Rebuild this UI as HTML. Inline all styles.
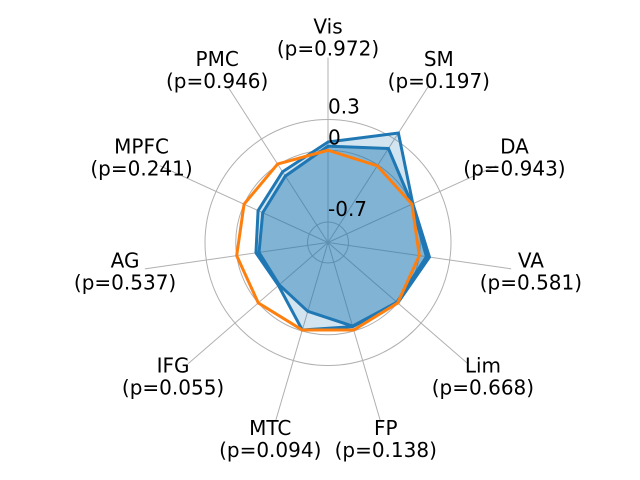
<!DOCTYPE html>
<html><head><meta charset="utf-8"><style>
body{margin:0;background:#fff}
svg{display:block}
text{font-family:"DejaVu Sans","Liberation Sans",sans-serif;font-size:20px;fill:#000}
</style></head><body>
<svg id="chart" width="640" height="480" viewBox="0 0 640 480">
<g id="grid"></g>
<g id="series"></g>
<g id="labels"></g>
</svg>
<script>
const categories = ["Vis","SM","DA","VA","Lim","FP","MTC","IFG","AG","MPFC","PMC"];
const pvalues = ["0.972","0.197","0.943","0.581","0.668","0.138","0.094","0.055","0.537","0.241","0.946"];
const seriesA = [0.08,0.37,0.01,0.10,0.00,-0.045,-0.01,-0.26,-0.19,-0.15,-0.08];
const seriesB = [0.04,0.19,0.00,0.07,-0.01,-0.05,-0.20,-0.27,-0.22,-0.20,-0.13];
const seriesC = [0.00,-0.01,0.00,0.00,0.00,-0.01,-0.01,0.00,0.00,0.00,0.01];
const ringValues = [-0.7,0,0.3];
const ringLabels = ["-0.7","0","0.3"];

const cx=328, cy=242.5, rMin=-0.9, rMax=0.3, R=123;
const NS="http://www.w3.org/2000/svg";
function rScale(v){return (v-rMin)/(rMax-rMin)*R;}
function ang(i){return i*2*Math.PI/categories.length;}
function pt(i,r){return [cx+r*Math.sin(ang(i)), cy-r*Math.cos(ang(i))];}
function mk(tag,attrs,parent){const e=document.createElementNS(NS,tag);for(const k in attrs)e.setAttribute(k,attrs[k]);parent.appendChild(e);return e;}

const grid=document.getElementById('grid');
ringValues.forEach((v,i)=>{
  const c=mk('circle',{cx:cx,cy:cy,r:rScale(v),fill:'none',stroke:'#b0b0b0','stroke-width':1},grid);
  
  
});
categories.forEach((c,i)=>{
  const p=pt(i,185);
  const l=mk('line',{x1:cx,y1:cy,x2:p[0],y2:p[1],stroke:'#b0b0b0','stroke-width':1},grid);
  
  
});

const ser=document.getElementById('series');
function poly(vals,fill,fo,stroke,name){
  const pts=vals.map((v,i)=>pt(i,rScale(v)).join(',')).join(' ');
  const p=mk('polygon',{points:pts,fill:fill,'fill-opacity':fo,stroke:stroke,'stroke-width':3,'stroke-linejoin':'miter'},ser);
  
  
}
poly(seriesA,'#1f77b4',0.2,'#1f77b4','series-a');
poly(seriesB,'#1f77b4',0.45,'#1f77b4','series-b');
poly(seriesC,'none',0,'#ff7f0e','series-c');

const lab=document.getElementById('labels');
ringValues.forEach((v,i)=>{
  const r=rScale(v);
  const t=mk('text',{x:cx,y:cy-r-6,'text-anchor':'start'},lab);
  t.textContent=ringLabels[i];
  
  
});
categories.forEach((c,i)=>{
  const p=pt(i,205);
  const t=mk('text',{x:p[0],y:p[1]-4,'text-anchor':'middle'},lab);
  t.textContent=c;
  
  
  const t2=mk('text',{x:p[0],y:p[1]+18,'text-anchor':'middle'},lab);
  t2.textContent='(p='+pvalues[i]+')';
  
  
});
</script>
</body></html>
